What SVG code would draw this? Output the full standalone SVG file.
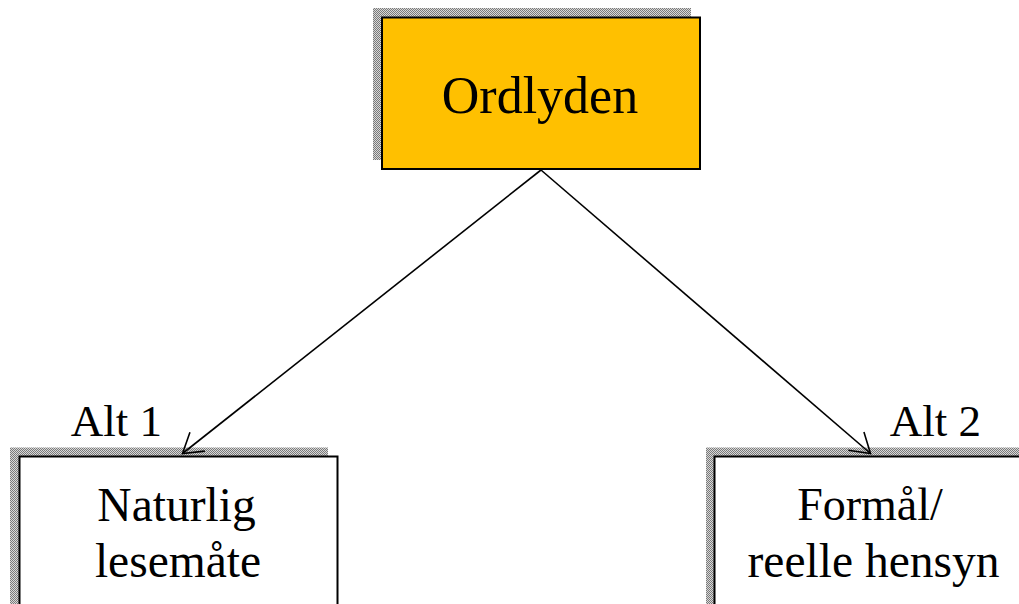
<svg xmlns="http://www.w3.org/2000/svg" width="1019" height="604" viewBox="0 0 1019 604">
<defs>
<pattern id="dither" width="2" height="2" patternUnits="userSpaceOnUse">
<rect width="2" height="2" fill="#d8d8d8"/>
<rect width="1" height="1" fill="#7a7a7a"/>
<rect x="1" y="1" width="1" height="1" fill="#7a7a7a"/>
</pattern>
</defs>
<style>
.shadow{fill:url(#dither);}
.box{stroke:#000;stroke-width:2;}
.t{font-family:"Liberation Serif","Times New Roman",serif;fill:#000;text-anchor:middle;}
.conn{stroke:#000;stroke-width:1.6;fill:none;}
</style>
<rect width="1019" height="604" fill="#fff"/>
<g id="node-ordlyden">
<rect class="shadow" x="373" y="8" width="318" height="152"/>
<rect class="box" x="382" y="17.5" width="318" height="151.5" fill="#ffc000"/>
<text class="t" x="540" y="113" font-size="52">Ordlyden</text>
</g>
<g id="node-alt1">
<rect class="shadow" x="10" y="447.5" width="318" height="170"/>
<rect class="box" x="19.5" y="456.5" width="318" height="170" fill="#fff"/>
<text class="t" x="116.5" y="436" font-size="45">Alt 1</text>
<text class="t" x="176.5" y="521" font-size="47.5">Naturlig</text>
<text class="t" x="178" y="577" font-size="47.5">lesemåte</text>
</g>
<g id="node-alt2">
<rect class="shadow" x="706" y="447.5" width="330" height="170"/>
<rect class="box" x="714.5" y="456.5" width="330" height="170" fill="#fff"/>
<text class="t" x="935.5" y="436" font-size="45">Alt 2</text>
<text class="t" x="870" y="520" font-size="46">Formål/</text>
<text class="t" x="873.5" y="577" font-size="47.5">reelle hensyn</text>
</g>
<g id="connectors">
<line class="conn" x1="541" y1="170" x2="182.5" y2="453.5"/>
<path class="conn" d="M189.96,432.3 L182.5,453.5 L204.84,451.13"/>
<line class="conn" x1="541" y1="170" x2="870.5" y2="453.5"/>
<path class="conn" d="M848.27,450.2 L870.5,453.5 L863.93,432"/>
</g>
</svg>
